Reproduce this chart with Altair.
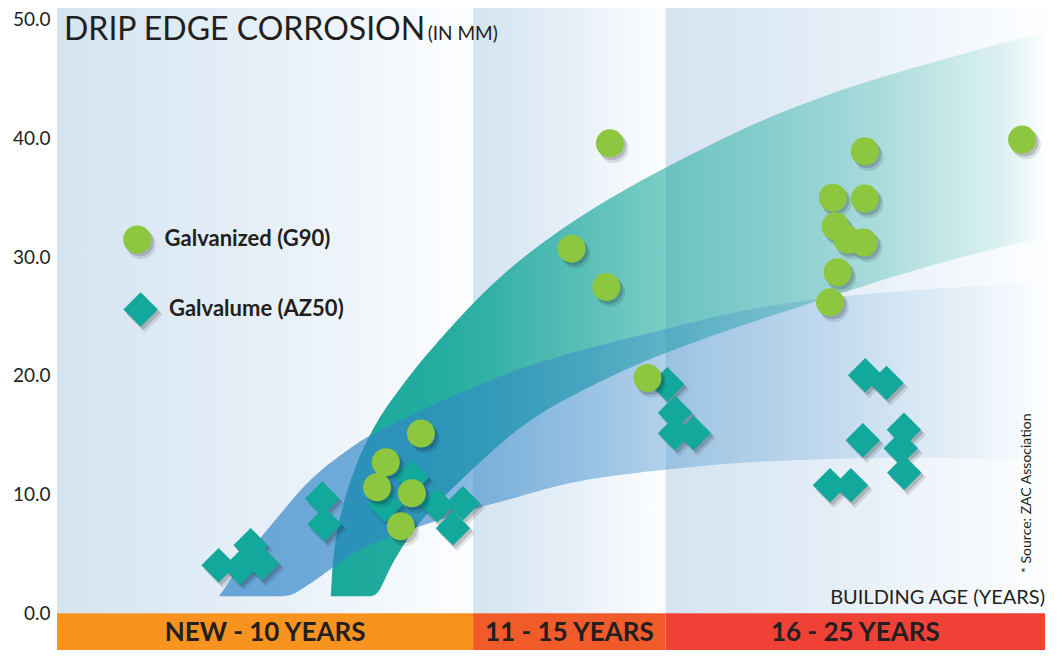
import altair as alt
import pandas as pd

# ---------------- data ----------------
# Galvanized (G90) points: building age (years) / corrosion (mm)
galv_x = [9.21, 8.32, 8.10, 8.98, 8.70, 14.94, 13.99, 13.02, 13.90, 20.44,
          19.63, 20.44, 20.41, 20.00, 19.70, 19.75, 19.56, 24.42]
galv_y = [15.14, 12.72, 10.61, 10.11, 7.33, 19.82, 39.60, 30.72, 27.49, 38.92,
          35.02, 34.94, 31.23, 31.48, 32.60, 28.73, 26.20, 39.91]

# Galvalume (AZ50) points
galu_x = [4.09, 4.63, 4.90, 5.19, 6.71, 6.77, 8.98, 8.30, 9.62, 10.27, 10.02,
          15.44, 15.64, 16.11, 15.64, 20.45, 20.99, 20.39, 21.35, 21.43, 21.44,
          19.56, 20.09]
galu_y = [4.04, 3.85, 5.73, 4.19, 9.66, 7.50, 11.46, 9.10, 9.10, 9.27, 7.16,
          19.29, 16.89, 15.19, 15.16, 20.05, 19.40, 14.57, 13.90, 15.46, 11.84,
          10.78, 10.78]

# Trend band for galvanized (teal): edges
teal_x = [6.93, 6.98, 7.11, 7.34, 7.59, 7.84, 8.12, 8.35, 8.68, 9.01, 9.36, 9.69,
          10.53, 11.39, 12.22, 13.23, 14.75, 16.45, 18.12, 20.57, 23.18, 25.0]
teal_hi = [1.43, 4.72, 7.58, 10.36, 12.72, 14.57, 16.26, 17.44, 18.96, 20.39,
           21.82, 23.08, 26.20, 28.90, 31.09, 33.45, 36.48, 39.34, 42.04, 44.99,
           47.35, 49.03]
teal_lo = [1.43, 1.43, 1.43, 1.43, 1.43, 1.43, 1.43, 3.37, 5.31, 6.99, 8.34, 9.52,
           12.22, 14.83, 16.85, 18.70, 21.15, 23.25, 25.11, 27.80, 30.33, 31.68]

# Trend band for galvalume (blue)
blue_x = [4.10, 4.38, 4.88, 5.52, 5.90, 6.15, 6.65, 7.47, 7.78, 8.35, 9.19, 9.44,
          10.53, 11.39, 12.22, 13.23, 14.75, 16.27, 17.28, 19.81, 22.34, 25.0]
blue_hi = [1.43, 2.78, 5.31, 7.83, 9.35, 10.36, 12.05, 14.02, 14.74, 15.69, 17.10,
           17.44, 19.04, 20.22, 21.15, 22.16, 23.42, 24.68, 25.53, 26.79, 27.38, 27.89]
blue_lo = [1.43, 1.43, 1.43, 1.43, 1.43, 1.94, 3.03, 5.05, 5.53, 6.40, 7.33, 7.58,
           8.80, 9.52, 10.36, 11.21, 11.88, 12.38, 12.72, 13.06, 13.14, 12.89]

# Age groups (background panels and bottom bar)
group_labels = ["NEW - 10 YEARS", "11 - 15 YEARS", "16 - 25 YEARS"]
group_start = [0.0, 10.53, 15.40]
group_end = [10.53, 15.40, 25.0]
group_colors = ["#f7931e", "#f15a29", "#ef4136"]

y_ticks = [0, 10, 20, 30, 40, 50]
legend_labels = ["Galvanized (G90)", "Galvalume (AZ50)"]

# ---------------- chart ----------------
TXT = "#231f20"
FONT = "Lato"
Y_MIN, Y_MAX = -3.1, 51.0
xs = alt.Scale(domain=[0, 25], nice=False, zero=False)
ys = alt.Scale(domain=[Y_MIN, Y_MAX], nice=False, zero=False)

groups = pd.DataFrame({"label": group_labels, "start": group_start, "end": group_end})
galv = pd.DataFrame({"x": galv_x, "y": galv_y})
galu = pd.DataFrame({"x": galu_x, "y": galu_y})
teal = pd.DataFrame({"x": teal_x, "hi": teal_hi, "lo": teal_lo})
blue = pd.DataFrame({"x": blue_x, "hi": blue_hi, "lo": blue_lo})


def grad(stops):
    return alt.Gradient(gradient="linear", x1=0, x2=1, y1=0, y2=0,
                        stops=[alt.GradientStop(offset=o, color=c) for o, c in stops])


panel_grad = grad([(0, "#d4e4f1"), (0.45, "#e4eef7"), (1, "#fdfeff")])
teal_grad = grad([(0, "rgba(26,169,155,1)"), (0.17, "rgba(26,169,155,0.95)"),
                  (0.28, "rgba(26,169,155,0.78)"), (0.42, "rgba(26,169,155,0.62)"),
                  (0.52, "rgba(26,169,155,0.52)"), (0.74, "rgba(26,169,155,0.33)"),
                  (0.94, "rgba(26,169,155,0.12)"), (1, "rgba(26,169,155,0)")])
blue_grad = grad([(0, "rgba(51,134,200,0.70)"), (0.22, "rgba(51,134,200,0.67)"),
                  (0.31, "rgba(51,134,200,0.56)"), (0.53, "rgba(51,134,200,0.38)"),
                  (0.58, "rgba(51,134,200,0.32)"), (0.82, "rgba(51,134,200,0.13)"),
                  (1, "rgba(51,134,200,0)")])

y_axis = alt.Axis(values=y_ticks, format=".1f", labelFont=FONT, labelFontSize=19,
                  labelColor=TXT, domain=False, ticks=False, grid=False,
                  labelPadding=7, title=None, labelFlush=False, labelOverlap=False)


def X(field):
    return alt.X(field, type="quantitative", scale=xs, axis=None)


def Y(field):
    return alt.Y(field, type="quantitative", scale=ys, axis=y_axis)


panels = alt.Chart(groups).transform_calculate(
    y0="0", y1=str(Y_MAX)).mark_rect(color=panel_grad).encode(
    x=X("start"), x2="end", y=Y("y0"), y2="y1")

teal_band = alt.Chart(teal).mark_area(color=teal_grad, interpolate="basis").encode(
    x=X("x"), y=Y("hi"), y2="lo")

blue_band = alt.Chart(blue).mark_area(color=blue_grad, interpolate="basis").encode(
    x=X("x"), y=Y("hi"), y2="lo")

bar = alt.Chart(groups).transform_calculate(
    y0="0", y1=str(Y_MIN)).mark_rect().encode(
    x=X("start"), x2="end", y=Y("y0"), y2="y1",
    color=alt.Color("label:N", scale=alt.Scale(domain=group_labels, range=group_colors),
                    legend=None))

bar_text = alt.Chart(groups).transform_calculate(
    mid="(datum.start + datum.end) / 2", yc=str(Y_MIN / 2)).mark_text(
    font=FONT, fontWeight="bold", fontSize=26, color=TXT, baseline="middle",
    align="center", dy=1).encode(
    x=X("mid:Q"), y=Y("yc:Q"), text="label:N")


def pts(df, shape, size, color, opacity=1.0, dx=0, dy=0):
    return alt.Chart(df).mark_point(shape=shape, filled=True, size=size, color=color,
                                    opacity=opacity, strokeWidth=0,
                                    xOffset=dx, yOffset=dy).encode(
        x=X("x"), y=Y("y"))


dia_sh1 = pts(galu, "diamond", 1300, "#000000", 0.10, 4, 5)
dia_sh2 = pts(galu, "diamond", 1190, "#000000", 0.16, 2.5, 3)
dia = pts(galu, "diamond", 1190, "#12a89b")
cir_sh1 = pts(galv, "circle", 870, "#000000", 0.10, 4, 5)
cir_sh2 = pts(galv, "circle", 784, "#000000", 0.16, 2.5, 3)
cir = pts(galv, "circle", 784, "#8dc63f")

one = pd.DataFrame({"a": [0]})


def sym(shape, size, color, x, y, opacity=1.0, dx=0, dy=0):
    return alt.Chart(one).mark_point(shape=shape, filled=True, size=size, color=color,
                                     opacity=opacity, strokeWidth=0,
                                     xOffset=dx, yOffset=dy).encode(
        x=alt.value(x), y=alt.value(y))


def txt(text, x, y, size, weight="normal", align="left", baseline="middle", angle=0):
    return alt.Chart(pd.DataFrame({"t": [text]})).mark_text(
        font=FONT, fontSize=size, fontWeight=weight, color=TXT, align=align,
        baseline=baseline, angle=angle).encode(
        x=alt.value(x), y=alt.value(y), text="t:N")


legend = [
    sym("circle", 870, "#000000", 80.2, 231.5, 0.10, 4, 5),
    sym("circle", 784, "#000000", 80.2, 231.5, 0.16, 2.5, 3),
    sym("circle", 784, "#8dc63f", 80.2, 231.5),
    sym("diamond", 1300, "#000000", 83.6, 301.5, 0.10, 4, 5),
    sym("diamond", 1190, "#000000", 83.6, 301.5, 0.16, 2.5, 3),
    sym("diamond", 1190, "#12a89b", 83.6, 301.5),
    txt(legend_labels[0], 107.6, 231.3, 22, "bold"),
    txt(legend_labels[1], 112.0, 301.3, 22, "bold"),
]

texts = [
    txt("DRIP EDGE CORROSION", 7, 31.8, 32, baseline="alphabetic"),
    txt("(IN MM)", 370.7, 31.8, 19, baseline="alphabetic"),
    txt("BUILDING AGE (YEARS)", 988.0, 590, 20, align="right"),
    txt("* Source: ZAC Association", 970, 565, 14, angle=270),
]

chart = alt.layer(panels, teal_band, blue_band, bar, bar_text,
                  dia_sh1, dia_sh2, dia, cir_sh1, cir_sh2, cir,
                  *legend, *texts).properties(
    width=988, height=642,
    autosize=alt.AutoSizeParams(type="none"),
    padding={"left": 49, "top": 0, "right": 9, "bottom": 0},
    background="white",
).configure_view(strokeWidth=0)

chart.save("out.html", embed_options={"renderer": "svg", "actions": False})
